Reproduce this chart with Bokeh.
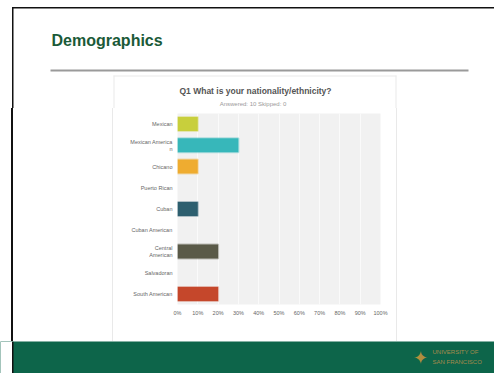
from bokeh.plotting import figure
from bokeh.layouts import column, row
from bokeh.models import FactorRange, Range1d, FixedTicker, PrintfTickFormatter, ColumnDataSource, Div
from bokeh.core.properties import value
from bokeh.embed import file_html
from bokeh.resources import INLINE

# ---- data ----
categories = ["Mexican", "Mexican America\nn", "Chicano", "Puerto Rican", "Cuban",
              "Cuban American", "Central\nAmerican", "Salvadoran", "South American"]
percents = [10, 30, 10, 0, 10, 0, 20, 0, 20]
colors = ["#c8cf3c", "#37b7ba", "#efac30", "#cccccc", "#2d5f6f",
          "#cccccc", "#5a5a48", "#cccccc", "#c5472b"]
x_ticks = [0, 10, 20, 30, 40, 50, 60, 70, 80, 90, 100]
slide_title = "Demographics"
chart_title = "Q1 What is your nationality/ethnicity?"
chart_subtitle = "Answered: 10    Skipped: 0"

W = 494
HEADER_H, CHART_H, FOOTER_H = 108, 233, 32
LEFT_W, CHART_W, RIGHT_W = 113, 283, 98
FONT = value("Liberation Sans")
PANEL = "#e9e9e9"
BLACK = "#111111"
GREEN = "#0d654a"


def canvas(w, h, bg="white"):
    f = figure(width=w, height=h, output_backend="svg", toolbar_location=None,
               x_range=Range1d(0, w), y_range=Range1d(h, 0),
               x_axis_type=None, y_axis_type=None, min_border=0)
    f.grid.visible = False
    f.outline_line_color = None
    f.background_fill_color = bg
    f.border_fill_color = bg
    return f


def rect(f, l, t, r, b, color):
    f.quad(left=[l], right=[r], top=[t], bottom=[b], fill_color=color, line_color=None)


def text(f, x, y, s, size, color, bold=False, align="left", font=FONT):
    f.text(x=[x], y=[y], text=[s], text_font=font, text_font_size=value(f"{size}px"),
           text_color=color, text_font_style="bold" if bold else "normal",
           text_align=align, text_baseline="middle")


# ---- header ----
hd = canvas(W, HEADER_H)
rect(hd, 11.5, 6.5, W, 8, BLACK)
rect(hd, 11.5, 6.5, 13, HEADER_H, BLACK)
text(hd, 51, 40, slide_title, 16, "#1a5a38", bold=True)
rect(hd, 50, 69, 468, 71, "#9a9a9a")
rect(hd, 113, 75, 396, 76, PANEL)
rect(hd, 113, 75, 114, HEADER_H, PANEL)
rect(hd, 395, 75, 396, HEADER_H, PANEL)
text(hd, 255, 90, chart_title, 8.5, "#555555", bold=True, align="center")
text(hd, 255, 103, chart_subtitle, 6, "#9a9a9a", align="center")

# ---- left / right fillers ----
lf = Div(width=LEFT_W, height=CHART_H, margin=0, styles={
    "background": f"linear-gradient(to right, white 11.5px, {BLACK} 11.5px, {BLACK} 13px, "
                  f"white 13px, white 112px, {PANEL} 112px)"})
rf = Div(width=RIGHT_W, height=CHART_H, margin=0, styles={
    "background": f"linear-gradient(to right, {PANEL} 1px, white 1px)"})

# ---- chart ----
p = figure(width=CHART_W, height=CHART_H, output_backend="svg", toolbar_location=None,
           y_range=FactorRange(*reversed(categories)), x_range=Range1d(0, 100),
           min_border_left=64, min_border_right=16, min_border_top=5,
           min_border_bottom=37, title=None)
p.outline_line_color = None
p.background_fill_color = "#f1f1f1"
p.border_fill_color = "white"
rows = [(c, v, col) for c, v, col in zip(categories, percents, colors) if v > 0]
src = ColumnDataSource(dict(y=[r[0] for r in rows], v=[r[1] for r in rows],
                            c=[r[2] for r in rows]))
p.hbar(y="y", left=0, right="v", height=0.66, fill_color="c", line_color="c",
       line_alpha=0.35, line_width=2, source=src)
p.xaxis.ticker = FixedTicker(ticks=x_ticks)
p.xaxis.formatter = PrintfTickFormatter(format="%d%%")
for ax in (p.xaxis, p.yaxis):
    ax.axis_line_color = None
    ax.major_tick_line_color = None
    ax.minor_tick_line_color = None
    ax.major_tick_out = 0
    ax.major_tick_in = 0
    ax.major_label_text_font = "Liberation Sans"
    ax.major_label_text_color = "#666666"
    ax.major_label_text_font_size = "5.5px"
p.xaxis.major_label_standoff = 5
p.yaxis.major_label_standoff = 5
p.xgrid.grid_line_color = "#fafafa"
p.ygrid.grid_line_color = None

# ---- footer ----
ft = canvas(W, FOOTER_H, bg=GREEN)
rect(ft, 0, 0, 11.5, FOOTER_H, "white")
rect(ft, 11.5, 0, 13, FOOTER_H, BLACK)
text(ft, 420, 16, "\u2726", 18, "#b08e3e", align="center", font=value("DejaVu Sans"))
text(ft, 432, 10, "UNIVERSITY OF", 6, "#a68b4c")
text(ft, 432, 20, "SAN FRANCISCO", 6, "#a68b4c")

layout = column(hd, row(lf, p, rf, spacing=0), ft, spacing=0)
open("out.html", "w").write(file_html(layout, INLINE))
